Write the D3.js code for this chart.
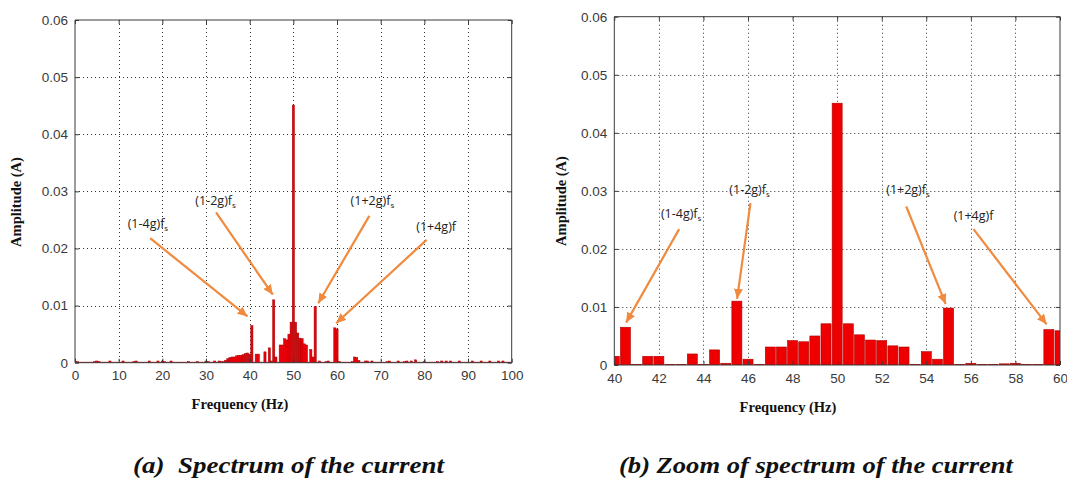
<!DOCTYPE html>
<html><head><meta charset="utf-8">
<script src="https://cdn.jsdelivr.net/npm/d3@7"></script>
<style>body{margin:0;background:#fff}</style>
</head><body>
<svg id="c" width="1067" height="481" xmlns="http://www.w3.org/2000/svg"></svg>
<script>
// ---------------- DATA ----------------
// FFT bins every 0.5 Hz from 0 to 100 Hz (amplitude in A)
const binStep = 0.5;
const amplitudes = [
  0.0002,0.0002,0.0001,0.0001,0.0001,0.0001,0.0001,0.0001,0.0001,0.0002, // 0 - 4.5
  0.0003,0.0002,0.0001,0.0001,0.0001,0.0001,0.0003,0.0001,0.0001,0.0001, // 5 - 9.5
  0.0001,0.0001,0.0003,0.0001,0.0001,0.0001,0.0001,0.0002,0.0003,0.0001, // 10 - 14.5
  0.0001,0.0001,0.0001,0.0001,0.0003,0.0001,0.0001,0.0001,0.0003,0.0001, // 15 - 19.5
  0.0003,0.0002,0.0001,0.0001,0.0003,0.0001,0.0001,0.0001,0.0001,0.0001, // 20 - 24.5
  0.0001,0.0001,0.0002,0.0001,0.0001,0.0001,0.0002,0.0001,0.0001,0.0001, // 25 - 29.5
  0.0003,0.0002,0.0001,0.0001,0.0003,0.0001,0.0003,0.0002,0.0002,0.0004, // 30 - 34.5
  0.0007,0.0009,0.0010,0.0010,0.0012,0.0013,0.0013,0.0014,0.0016,0.0017, // 35 - 39.5
  0.0015,0.0065,0.0001,0.0015,0.0015,0.0001,0.0001,0.0019,0.0001,0.0026, // 40 - 44.5
  0.0003,0.0110,0.0010,0.0001,0.0031,0.0031,0.0042,0.0040,0.0050,0.0071, // 45 - 49.5
  0.0451,0.0071,0.0052,0.0043,0.0042,0.0033,0.0031,0.0001,0.0023,0.0010, // 50 - 54.5
  0.0098,0.0001,0.0003,0.0001,0.0001,0.0002,0.0003,0.0001,0.0001,0.0061, // 55 - 59.5
  0.0059,0.0002,0.0001,0.0001,0.0001,0.0001,0.0001,0.0002,0.0010,0.0009, // 60 - 64.5
  0.0004,0.0001,0.0001,0.0003,0.0003,0.0001,0.0003,0.0001,0.0001,0.0001, // 65 - 69.5
  0.0001,0.0001,0.0001,0.0002,0.0003,0.0001,0.0001,0.0001,0.0003,0.0001, // 70 - 74.5
  0.0001,0.0002,0.0003,0.0001,0.0003,0.0001,0.0005,0.0001,0.0001,0.0001, // 75 - 79.5
  0.0002,0.0001,0.0001,0.0001,0.0001,0.0001,0.0002,0.0001,0.0003,0.0001, // 80 - 84.5
  0.0003,0.0001,0.0003,0.0001,0.0001,0.0001,0.0003,0.0001,0.0001,0.0001, // 85 - 89.5
  0.0001,0.0001,0.0003,0.0001,0.0001,0.0001,0.0003,0.0001,0.0001,0.0001, // 90 - 94.5
  0.0003,0.0001,0.0001,0.0001,0.0003,0.0001,0.0003,0.0001,0.0001,0.0001, // 95 - 99.5
  0.0001                                                                 // 100
];
const frequencies = amplitudes.map((_, i) => i * binStep);

const yTicks = [0, 0.01, 0.02, 0.03, 0.04, 0.05, 0.06];
const yTickLabels = ["0", "0.01", "0.02", "0.03", "0.04", "0.05", "0.06"];
const fullXTicks = [0, 10, 20, 30, 40, 50, 60, 70, 80, 90, 100];
const zoomXTicks = [40, 42, 44, 46, 48, 50, 52, 54, 56, 58, 60];

const annLabels = ["(1-4g)f", "(1-2g)f", "(1+2g)f", "(1+4g)f"];
const annSubs = ["s", "s", "s", ""];
// annotation anchors in data units [Hz, A]
const fullAnnText  = [[16.7, 0.0244], [32.2, 0.0284], [68.1, 0.0285], [82.7, 0.0240]];
const fullAnnFrom  = [[17.2, 0.0218], [32.3, 0.0263], [67.4, 0.0257], [80.5, 0.0215]];
const fullAnnTo    = [[39.5, 0.0081], [45.3, 0.0119], [55.7, 0.0104], [59.8, 0.0069]];
const zoomAnnText  = [[43.0, 0.0262], [46.07, 0.0303], [53.18, 0.0303], [56.12, 0.0259]];
const zoomAnnFrom  = [[42.91, 0.0234], [46.11, 0.0279], [53.1, 0.0273], [56.12, 0.0234]];
const zoomAnnTo    = [[40.53, 0.0073], [45.51, 0.0114], [54.87, 0.0105], [59.4, 0.0070]];

const captions = ["(a)  Spectrum of the current", "(b) Zoom of spectrum of the current"];

// ---------------- DRAW ----------------
const svg = d3.select("#c");
svg.append("rect").attr("width", 1067).attr("height", 481).attr("fill", "#fff");

const defs = svg.append("defs");
defs.append("marker").attr("id", "arr")
  .attr("markerUnits", "userSpaceOnUse")
  .attr("markerWidth", 11).attr("markerHeight", 9)
  .attr("refX", 10).attr("refY", 4.5).attr("orient", "auto")
  .append("path").attr("d", "M0,0 L10,4.5 L0,9 Z").attr("fill", "#ef8a3e");

const data = frequencies.map((f, i) => ({ f, a: amplitudes[i] }));

function drawChart(cfg) {
  const x = d3.scaleLinear().domain(cfg.xDomain).range([cfg.left, cfg.right]);
  const y = d3.scaleLinear().domain([0, 0.06]).range([cfg.bottom, cfg.top]);
  const g = svg.append("g");
  const clipId = "clip" + cfg.id;
  defs.append("clipPath").attr("id", clipId).append("rect")
    .attr("x", cfg.left).attr("y", cfg.top)
    .attr("width", cfg.right - cfg.left).attr("height", cfg.bottom - cfg.top);

  // grid
  const grid = g.append("g").attr("stroke", "#333").attr("stroke-width", 1)
    .attr("stroke-dasharray", "1,3");
  cfg.xTicks.slice(1, -1).forEach(t => grid.append("line")
    .attr("x1", Math.round(x(t)) + 0.5).attr("x2", Math.round(x(t)) + 0.5)
    .attr("y1", cfg.top).attr("y2", cfg.bottom));
  yTicks.slice(1, -1).forEach(t => grid.append("line")
    .attr("y1", Math.round(y(t)) + 0.5).attr("y2", Math.round(y(t)) + 0.5)
    .attr("x1", cfg.left).attr("x2", cfg.right));

  // bars
  const half = cfg.barFrac * binStep / 2;
  g.append("g").attr("clip-path", `url(#${clipId})`)
    .selectAll("rect").data(data.filter(d => d.f >= cfg.xDomain[0] - 0.5 && d.f <= cfg.xDomain[1] + 0.5))
    .join("rect")
    .attr("x", d => x(d.f - half))
    .attr("width", d => x(d.f + half) - x(d.f - half))
    .attr("y", d => y(d.a))
    .attr("height", d => y(0) - y(d.a))
    .attr("fill", cfg.barFill)
    .attr("stroke", cfg.barStroke)
    .attr("stroke-width", cfg.barStrokeW);

  // axes (MATLAB style box with inward ticks)
  const axB = d3.axisBottom(x).tickValues(cfg.xTicks).tickSize(-4).tickFormat(d => String(d)).tickPadding(8);
  const axT = d3.axisTop(x).tickValues(cfg.xTicks).tickSize(-4).tickFormat("");
  const axL = d3.axisLeft(y).tickValues(yTicks).tickSize(-4).tickFormat((d, i) => yTickLabels[i]).tickPadding(7);
  const axR = d3.axisRight(y).tickValues(yTicks).tickSize(-4).tickFormat("");
  const style = sel => {
    sel.selectAll("path.domain").attr("stroke", "#3a3a3a");
    sel.selectAll(".tick line").attr("stroke", "#3a3a3a");
    sel.selectAll("text").attr("fill", "#3a3a3a")
      .style("font-family", "'Liberation Sans', Arial, sans-serif").style("font-size", "13.5px");
  };
  g.append("g").attr("transform", `translate(0,${cfg.bottom})`).call(axB).call(style)
    .selectAll("path.domain").attr("d", `M${cfg.left},0H${cfg.right}`);
  g.append("g").attr("transform", `translate(0,${cfg.top})`).call(axT).call(style)
    .selectAll("path.domain").attr("d", `M${cfg.left},0H${cfg.right}`);
  g.append("g").attr("transform", `translate(${cfg.left},0)`).call(axL).call(style)
    .selectAll("path.domain").attr("d", `M0,${cfg.top}V${cfg.bottom}`);
  g.append("g").attr("transform", `translate(${cfg.right},0)`).call(axR).call(style)
    .selectAll("path.domain").attr("d", `M0,${cfg.top}V${cfg.bottom}`);

  // axis titles
  g.append("text").attr("x", cfg.xTitleX).attr("y", cfg.xTitleY)
    .attr("text-anchor", "middle")
    .style("font-family", "'Liberation Serif', 'Times New Roman', serif")
    .style("font-weight", "bold").style("font-size", "14.5px").attr("fill", "#111")
    .text("Frequency (Hz)");
  g.append("text")
    .attr("transform", `translate(${cfg.yTitleX},${cfg.yTitleY}) rotate(-90)`)
    .attr("text-anchor", "middle")
    .style("font-family", "'Liberation Serif', 'Times New Roman', serif")
    .style("font-weight", "bold").style("font-size", "14.5px").attr("fill", "#111")
    .text("Amplitude (A)");

  // annotations
  const ann = g.append("g");
  annLabels.forEach((lab, i) => {
    ann.append("line")
      .attr("x1", x(cfg.annFrom[i][0])).attr("y1", y(cfg.annFrom[i][1]))
      .attr("x2", x(cfg.annTo[i][0])).attr("y2", y(cfg.annTo[i][1]))
      .attr("stroke", "#ef8a3e").attr("stroke-width", 2.2)
      .attr("marker-end", "url(#arr)");
    const t = ann.append("text")
      .attr("x", x(cfg.annText[i][0])).attr("y", y(cfg.annText[i][1]) + 5)
      .attr("text-anchor", "middle")
      .style("font-family", "'Open Sans', 'Liberation Sans', sans-serif")
      .style("font-size", "12.5px").attr("fill", "#222");
    t.append("tspan").text(lab);
    if (annSubs[i]) t.append("tspan").attr("dy", 3).style("font-size", "8px").text(annSubs[i]);
  });

  // caption
  svg.append("text").attr("x", cfg.capX).attr("y", 473)
    .attr("textLength", cfg.capLen).attr("lengthAdjust", "spacingAndGlyphs")
    .style("font-family", "'Liberation Serif', 'Times New Roman', serif")
    .style("font-weight", "bold").style("font-style", "italic").style("font-size", "23px")
    .attr("fill", "#111").attr("xml:space", "preserve")
    .text(cfg.caption);
}

drawChart({
  id: "a", xDomain: [0, 100], xTicks: fullXTicks,
  left: 75, right: 511.7, top: 20, bottom: 362.7,
  barFrac: 1.0, barFill: "#e8000a", barStroke: "#a80000", barStrokeW: 0.5,
  xTitleX: 240, xTitleY: 409, yTitleX: 21, yTitleY: 202,
  annText: fullAnnText, annFrom: fullAnnFrom, annTo: fullAnnTo,
  capX: 133, capLen: 311, caption: captions[0]
});
drawChart({
  id: "b", xDomain: [40, 60], xTicks: zoomXTicks,
  left: 614.3, right: 1060, top: 16.7, bottom: 365,
  barFrac: 0.9, barFill: "#ee0000", barStroke: "#b00000", barStrokeW: 0.6,
  xTitleX: 788, xTitleY: 412, yTitleX: 566, yTitleY: 201,
  annText: zoomAnnText, annFrom: zoomAnnFrom, annTo: zoomAnnTo,
  capX: 619, capLen: 394, caption: captions[1]
});
</script>
</body></html>
